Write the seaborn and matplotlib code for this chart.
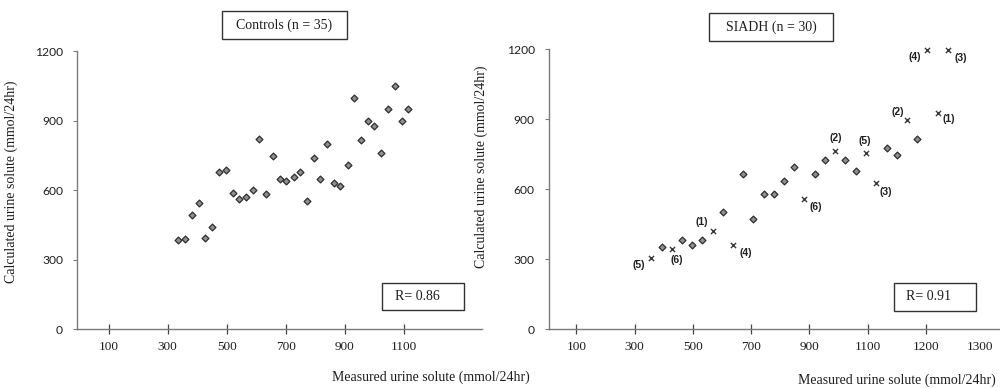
import matplotlib
matplotlib.use("Agg")
import matplotlib.pyplot as plt
import seaborn as sns
import pandas as pd
from matplotlib.patches import Rectangle

# ---------------- data ----------------
control_measured = [336, 360, 382, 407, 428, 452, 473, 498, 520, 542, 566, 589, 610, 634,
                    658, 681, 702, 727, 748, 772, 795, 817, 840, 863, 886, 910, 932, 954,
                    978, 1001, 1023, 1046, 1071, 1093, 1116]
control_calculated = [384, 387, 492, 542, 393, 442, 678, 688, 588, 563, 570, 600, 820, 583,
                      748, 649, 637, 658, 678, 553, 738, 647, 799, 629, 619, 708, 999, 817,
                      896, 878, 758, 948, 1049, 898, 948]

siadh_measured = [393, 462, 497, 532, 602, 673, 707, 744, 778, 814, 848, 918, 953, 1023,
                  1059, 1165, 1199, 1268]
siadh_calculated = [353, 382, 362, 382, 502, 667, 471, 579, 579, 635, 697, 667, 727, 727,
                    677, 775, 747, 815]

outlier_measured = [356, 427, 568, 639, 882, 989, 1094, 1128, 1235, 1340, 1304, 1375]
outlier_calculated = [303, 342, 422, 362, 559, 765, 757, 628, 897, 926, 1195, 1197]
outlier_labels = ["(5)", "(6)", "(1)", "(4)", "(6)", "(2)", "(5)", "(3)", "(2)", "(1)", "(4)", "(3)"]

left_title = "Controls (n = 35)"
right_title = "SIADH (n = 30)"
left_r = "R= 0.86"
right_r = "R= 0.91"
xlabel = "Measured urine solute (mmol/24hr)"
ylabel = "Calculated urine solute (mmol/24hr)"
y_ticks = [0, 300, 600, 900, 1200]
left_xticks = [100, 300, 500, 700, 900, 1100]
left_xticklabels = ["100", "300", "500", "700", "900", "1100"]
right_xticks = [100, 300, 500, 700, 900, 1100, 1300, 1485]
right_xticklabels = ["100", "300", "500", "700", "900", "1100", "1200", "1300"]

# label offsets (points) for outlier annotations
label_offsets = [(-9, -5), (4, -8), (-8, 6.5), (9, -6), (8, -6), (0, 9), (-1, 8), (7, -6.5),
                 (-7, 6), (8, -4.5), (-9, -5), (9, -6)]

# ---------------- style ----------------
sns.set_theme(style="white")
plt.rcParams["font.family"] = ["Liberation Serif", "DejaVu Serif"]
TXT = "#1e1e1e"
AX = "#7a7a7a"

fig = plt.figure(figsize=(10, 3.88), dpi=100)
axL = fig.add_axes([0.077, 0.152, 0.405, 0.7165])
axR = fig.add_axes([0.5487, 0.152, 0.4513, 0.721])

ctrl = pd.DataFrame({"measured": control_measured, "calculated": control_calculated})
sia = pd.DataFrame({"measured": siadh_measured, "calculated": siadh_calculated})
out = pd.DataFrame({"measured": outlier_measured, "calculated": outlier_calculated,
                    "label": outlier_labels})

dkw = dict(marker="D", s=12, color="#909090", edgecolor="#2e2e2e", linewidth=0.9,
           legend=False, clip_on=False)
sns.scatterplot(data=ctrl, x="measured", y="calculated", ax=axL, **dkw)
sns.scatterplot(data=sia, x="measured", y="calculated", ax=axR, **dkw)
sns.scatterplot(data=out, x="measured", y="calculated", ax=axR, marker="x", s=14,
                color="#3a3a3a", linewidth=1.0, legend=False, clip_on=False)

for (mx, my, lab), off in zip(zip(outlier_measured, outlier_calculated, outlier_labels), label_offsets):
    axR.annotate(lab, (mx, my), xytext=off, textcoords="offset points", ha="center",
                 va="center", fontsize=7.5, fontweight="bold", color=TXT,
                 family=["Liberation Sans", "DejaVu Sans"])

def style(ax, xlim, xticks, xticklabels, ylab_xy, xlab_xy):
    ax.set_xlim(*xlim)
    ax.set_ylim(0, 1200)
    for s in ["top", "right"]:
        ax.spines[s].set_visible(False)
    for s in ["left", "bottom"]:
        ax.spines[s].set_color(AX)
        ax.spines[s].set_linewidth(1.0)
    ax.set_yticks(y_ticks)
    ax.set_yticklabels([str(v) for v in y_ticks], family=["Lato", "DejaVu Sans"],
                       fontsize=8.7, color=TXT)
    ax.set_xticks(xticks)
    ax.set_xticklabels(xticklabels, fontsize=9.5, color=TXT)
    ax.tick_params(axis="y", direction="out", length=3, width=0.8, color=AX, pad=7, left=True)
    ax.tick_params(axis="x", direction="inout", length=7, width=0.9, color="#444444", pad=5,
                   bottom=True)
    ax.set_ylabel(ylabel, fontsize=10, color=TXT)
    ax.yaxis.set_label_coords(*ylab_xy)
    ax.set_xlabel(xlabel, fontsize=10, color=TXT)
    ax.xaxis.set_label_coords(*xlab_xy)
    ax.grid(False)
    ax.set_facecolor("white")

style(axL, (-7.5, 1366), left_xticks, left_xticklabels, (-0.146, 0.529), (0.874, -0.148))
style(axR, (5, 1554), right_xticks, right_xticklabels, (-0.1345, 0.579), (0.772, -0.158))
axR.xaxis.get_major_ticks()[-1].tick1line.set_visible(False)
axR.xaxis.get_major_ticks()[-1].tick2line.set_visible(False)

# boxes (figure pixel coordinates -> fractions)
W, H = 1000, 388
def box(x0, y0, x1, y1, text, tx, fs=10):
    fig.patches.append(Rectangle((x0 / W, 1 - y1 / H), (x1 - x0) / W, (y1 - y0) / H,
                                 transform=fig.transFigure, fill=False, edgecolor="#333333",
                                 linewidth=1.0))
    fig.text(tx / W, 1 - (y0 + y1) / 2 / H, text, ha="center", va="center",
             fontsize=fs, color=TXT)

box(222, 11, 347, 39, left_title, 284.5)
box(709, 13, 833, 41, right_title, 771)
box(382, 283, 464, 310, left_r, 417)
box(894, 283, 976, 311, right_r, 929)

fig.savefig("out.png", dpi=100, facecolor="white")
